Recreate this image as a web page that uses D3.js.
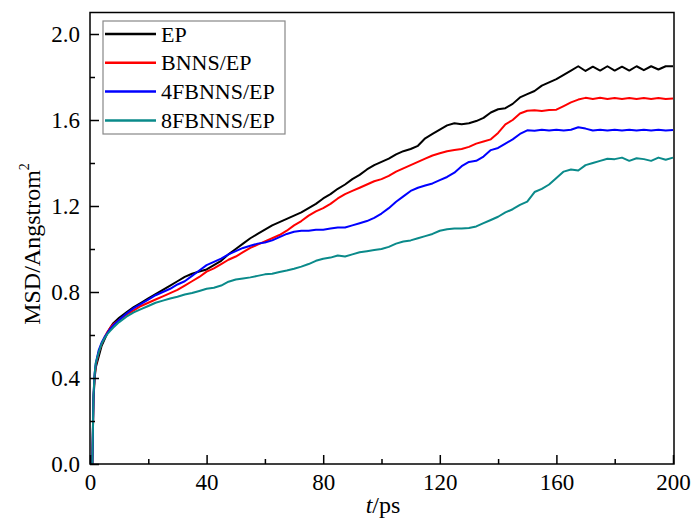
<!DOCTYPE html>
<html lang="en">
<head>
<meta charset="UTF-8">
<title>MSD chart</title>
<script src="https://d3js.org/d3.v7.min.js"></script>
<style>
  body { margin: 0; background: #fff; }
  svg { display: block; font-family: "Liberation Serif", "Times New Roman", serif; }
</style>
</head>
<body>
<svg id="chart" width="692" height="522"></svg>
<script>
// time axis (ps), shared by all series
const time = [0.8, 1.2, 1.6, 2, 3, 4, 5, 6, 7, 8,
  10, 12.5, 15, 17.5, 20, 22.5, 25, 27.5, 30, 32.5, 35, 37.5, 40, 42.5, 45, 47.5,
  50, 52.5, 55, 57.5, 60, 62.5, 65, 67.5, 70, 72.5, 75, 77.5, 80, 82.5, 85, 87.5,
  90, 92.5, 95, 97.5, 100, 102.5, 105, 107.5, 110, 112.5, 115, 117.5, 120, 122.5,
  125, 127.5, 130, 132.5, 135, 137.5, 140, 142.5, 145, 147.5, 150, 152.5, 155, 157.5,
  160, 162.5, 165, 167.5, 170, 172.5, 175, 177.5, 180, 182.5, 185, 187.5, 190, 192.5,
  195, 197.5, 200];

const seriesNames = ['EP', 'BNNS/EP', '4FBNNS/EP', '8FBNNS/EP'];
const seriesColors = ['#000000', '#ff0000', '#0000ff', '#0a8a8a'];

const msdEP = [0, 0.30, 0.40, 0.45, 0.50, 0.55, 0.58, 0.61, 0.635, 0.655,
  0.68, 0.705, 0.73, 0.75, 0.77, 0.79, 0.81, 0.83, 0.85, 0.87, 0.885, 0.895, 0.905, 0.925, 0.945, 0.975,
  1.0, 1.025, 1.05, 1.07, 1.09, 1.11, 1.125, 1.14, 1.155, 1.17, 1.19, 1.21, 1.235, 1.255, 1.28, 1.30,
  1.325, 1.345, 1.37, 1.39, 1.405, 1.42, 1.44, 1.455, 1.465, 1.48, 1.515, 1.535, 1.555, 1.575,
  1.585, 1.58, 1.585, 1.595, 1.61, 1.635, 1.65, 1.655, 1.675, 1.705, 1.72, 1.735, 1.76, 1.775,
  1.79, 1.81, 1.83, 1.85, 1.828, 1.848, 1.83, 1.85, 1.83, 1.848, 1.83, 1.85, 1.832, 1.85,
  1.835, 1.85, 1.85];

const msdBNNS = [0, 0.31, 0.41, 0.46, 0.52, 0.56, 0.59, 0.615, 0.635, 0.65,
  0.67, 0.695, 0.715, 0.735, 0.75, 0.765, 0.78, 0.795, 0.81, 0.83, 0.85, 0.87, 0.895, 0.91, 0.93, 0.95,
  0.965, 0.985, 1.005, 1.02, 1.035, 1.05, 1.065, 1.085, 1.11, 1.13, 1.155, 1.175, 1.19, 1.21, 1.235, 1.255,
  1.27, 1.285, 1.30, 1.315, 1.325, 1.34, 1.36, 1.375, 1.39, 1.405, 1.42, 1.435, 1.445, 1.455,
  1.46, 1.465, 1.475, 1.49, 1.50, 1.51, 1.54, 1.58, 1.60, 1.63, 1.643, 1.645, 1.642, 1.646,
  1.648, 1.665, 1.682, 1.695, 1.703, 1.698, 1.703, 1.698, 1.702, 1.698, 1.702, 1.698, 1.702, 1.698,
  1.702, 1.698, 1.70];

const msd4F = [0, 0.32, 0.42, 0.47, 0.53, 0.565, 0.59, 0.61, 0.63, 0.645,
  0.67, 0.70, 0.725, 0.745, 0.765, 0.785, 0.80, 0.815, 0.835, 0.85, 0.875, 0.90, 0.925, 0.94, 0.955, 0.975,
  0.99, 1.005, 1.015, 1.025, 1.03, 1.04, 1.055, 1.07, 1.08, 1.085, 1.085, 1.09, 1.09, 1.095, 1.10, 1.10,
  1.11, 1.12, 1.13, 1.145, 1.165, 1.19, 1.22, 1.245, 1.27, 1.285, 1.295, 1.305, 1.32, 1.335,
  1.355, 1.385, 1.405, 1.41, 1.43, 1.46, 1.47, 1.49, 1.51, 1.535, 1.552, 1.55, 1.555, 1.551,
  1.555, 1.551, 1.555, 1.566, 1.56, 1.551, 1.555, 1.551, 1.555, 1.551, 1.555, 1.551, 1.555, 1.551,
  1.555, 1.551, 1.553];

const msd8F = [0, 0.32, 0.42, 0.47, 0.52, 0.56, 0.585, 0.605, 0.62, 0.635,
  0.66, 0.685, 0.705, 0.72, 0.735, 0.75, 0.76, 0.77, 0.778, 0.788, 0.795, 0.805, 0.815, 0.82, 0.83, 0.848,
  0.858, 0.863, 0.868, 0.875, 0.882, 0.885, 0.893, 0.90, 0.908, 0.918, 0.93, 0.945, 0.955, 0.96, 0.97, 0.965,
  0.975, 0.985, 0.99, 0.995, 1.0, 1.01, 1.025, 1.035, 1.04, 1.05, 1.06, 1.07, 1.085, 1.092,
  1.095, 1.095, 1.098, 1.105, 1.12, 1.135, 1.15, 1.17, 1.185, 1.205, 1.22, 1.265, 1.28, 1.30,
  1.33, 1.36, 1.37, 1.365, 1.39, 1.40, 1.41, 1.42, 1.418, 1.425, 1.41, 1.422, 1.418, 1.41,
  1.425, 1.415, 1.425];

const xTicks = [0, 40, 80, 120, 160, 200];
const xMinor = [20, 60, 100, 140, 180];
const yTicks = [0, 0.4, 0.8, 1.2, 1.6, 2.0];
const yMinor = [0.2, 0.6, 1.0, 1.4, 1.8];

const allSeries = [msdEP, msdBNNS, msd4F, msd8F];

const svg = d3.select('#chart');
const padL = 90, padR = 673, padT = 12.5, padB = 464;

const x = d3.scaleLinear().domain([0, 200]).range([padL, padR]);
const y = d3.scaleLinear().domain([0, 2.1]).range([padB, padT]);

// curves
const line = d3.line()
  .x(d => x(d[0]))
  .y(d => y(d[1]));

allSeries.forEach((vals, i) => {
  svg.append('path')
    .datum(time.map((t, j) => [t, vals[j]]))
    .attr('d', line)
    .attr('fill', 'none')
    .attr('stroke', seriesColors[i])
    .attr('stroke-width', 2)
    .attr('stroke-linejoin', 'round');
});

// frame
svg.append('rect')
  .attr('x', padL).attr('y', padT)
  .attr('width', padR + 1 - padL).attr('height', padB - padT)
  .attr('fill', 'none')
  .attr('stroke', 'black')
  .attr('stroke-width', 1.5);

// axes, ticks point inward
const xAxis = d3.axisBottom(x).tickValues(xTicks).tickSize(-9).tickPadding(10).tickFormat(d3.format('d'));
svg.append('g').attr('transform', `translate(0,${padB})`).call(xAxis);
svg.append('g').attr('transform', `translate(0,${padB})`)
  .call(d3.axisBottom(x).tickValues(xMinor).tickSize(-5).tickFormat(''));

const yAxis = d3.axisLeft(y).tickValues(yTicks).tickSize(-9).tickPadding(10).tickFormat(d3.format('.1f'));
svg.append('g').attr('transform', `translate(${padL},0)`).call(yAxis);
svg.append('g').attr('transform', `translate(${padL},0)`)
  .call(d3.axisLeft(y).tickValues(yMinor).tickSize(-5).tickFormat(''));

svg.selectAll('.domain').remove();
svg.selectAll('.tick line').attr('stroke', 'black').attr('stroke-width', 1.5);
svg.selectAll('.tick text')
  .attr('fill', 'black')
  .style('font-family', '"Liberation Serif", serif')
  .style('font-size', '23px');

// axis titles
const xt = svg.append('text')
  .attr('x', 383).attr('y', 513)
  .attr('text-anchor', 'middle')
  .style('font-size', '24px');
xt.append('tspan').style('font-style', 'italic').text('t');
xt.append('tspan').text('/ps');

const yt = svg.append('text')
  .attr('transform', 'translate(40,244) rotate(-90)')
  .attr('text-anchor', 'middle')
  .style('font-size', '24px');
yt.append('tspan').text('MSD/Angstrom');
yt.append('tspan').attr('dy', -11).style('font-size', '14px').text('2');

// legend
const lg = svg.append('g');
lg.append('rect')
  .attr('x', 103).attr('y', 21)
  .attr('width', 182).attr('height', 113)
  .attr('fill', 'white')
  .attr('stroke', '#888')
  .attr('stroke-width', 1.2);

seriesNames.forEach((name, i) => {
  const ly = 34 + i * 28.8;
  lg.append('line')
    .attr('x1', 105).attr('x2', 156)
    .attr('y1', ly).attr('y2', ly)
    .attr('stroke', seriesColors[i])
    .attr('stroke-width', 2.5);
  lg.append('text')
    .attr('x', 161).attr('y', ly + 7.5)
    .style('font-size', '22px')
    .text(name);
});
</script>
</body>
</html>
